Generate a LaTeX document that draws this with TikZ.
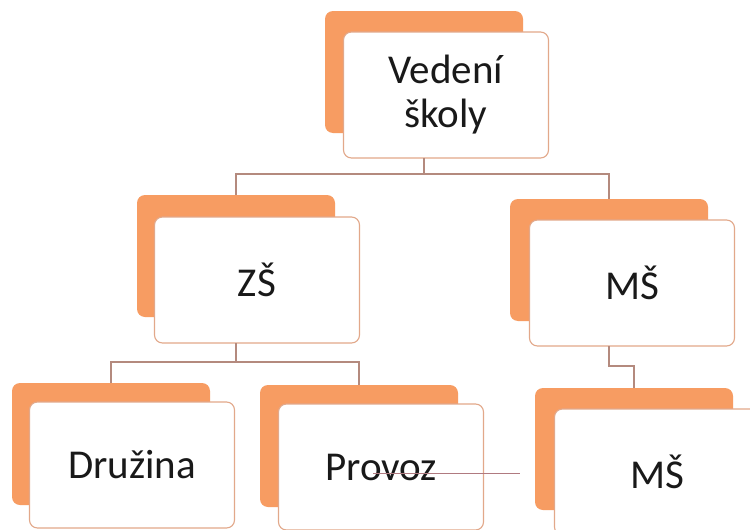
\documentclass[tikz,border=0pt]{standalone}
\usepackage{fontspec}
\setmainfont{Carlito}
\definecolor{backor}{HTML}{F79C62}
\definecolor{edgeor}{HTML}{E2A88A}
\definecolor{connc}{HTML}{B48A7E}
\definecolor{strayc}{HTML}{B07A80}
\begin{document}
\begin{tikzpicture}[x=1pt,y=-1pt,
  backbox/.style={rectangle,rounded corners=8pt,fill=backor,draw=none,minimum width=198pt,minimum height=122pt,inner sep=0pt,outer sep=0pt},
  frontbox/.style={rectangle,rounded corners=8pt,fill=white,draw=edgeor,line width=1.1pt,minimum width=205pt,minimum height=126pt,inner sep=0pt,outer sep=0pt,font=\fontsize{41}{44}\selectfont,align=center,text=black!90},
  conn/.style={draw=connc,line width=1.3pt},
  stray/.style={draw=strayc,line width=0.8pt}]
\clip (0,0) rectangle (750,530);
\fill[white] (0,0) rectangle (750,530);
% back (orange) boxes
\node[backbox] (topO) at (424,72) {};
\node[backbox] (zsO) at (236,256) {};
\node[backbox] (msO) at (609,260) {};
\node[backbox] (drO) at (111,444) {};
\node[backbox] (prO) at (359,446) {};
\node[backbox] (ms2O) at (634,449) {};
% front boxes
\node[frontbox] (top) at (446,95) {Vedení\\školy};
\node[frontbox] (zs) at (257,280) {ZŠ};
\node[frontbox] (ms) at (632,283) {MŠ};
\node[frontbox] (dr) at (132,465) {Družina};
\node[frontbox] (pr) at (381,467) {Provoz};
\node[frontbox] (ms2) at (657,472) {MŠ};
% junction levels
\coordinate (j1) at (0,174);
\coordinate (j2) at (0,362);
\coordinate (j3) at (0,366);
% connectors
\draw[conn] (topO |- top.south) -- (topO |- j1) -| (zsO.north);
\draw[conn] (topO |- j1) -| (msO.north);
\draw[conn] (zsO |- zs.south) -- (zsO |- j2) -| (drO.north);
\draw[conn] (zsO |- j2) -| (prO.north);
\draw[conn] (msO |- ms.south) -- (msO |- j3) -| (ms2O.north);
% stray line across Provoz
\coordinate (s1) at (373,473);
\coordinate (s2) at (520,473);
\draw[stray] (s1) -- (s2);
\end{tikzpicture}
\end{document}
